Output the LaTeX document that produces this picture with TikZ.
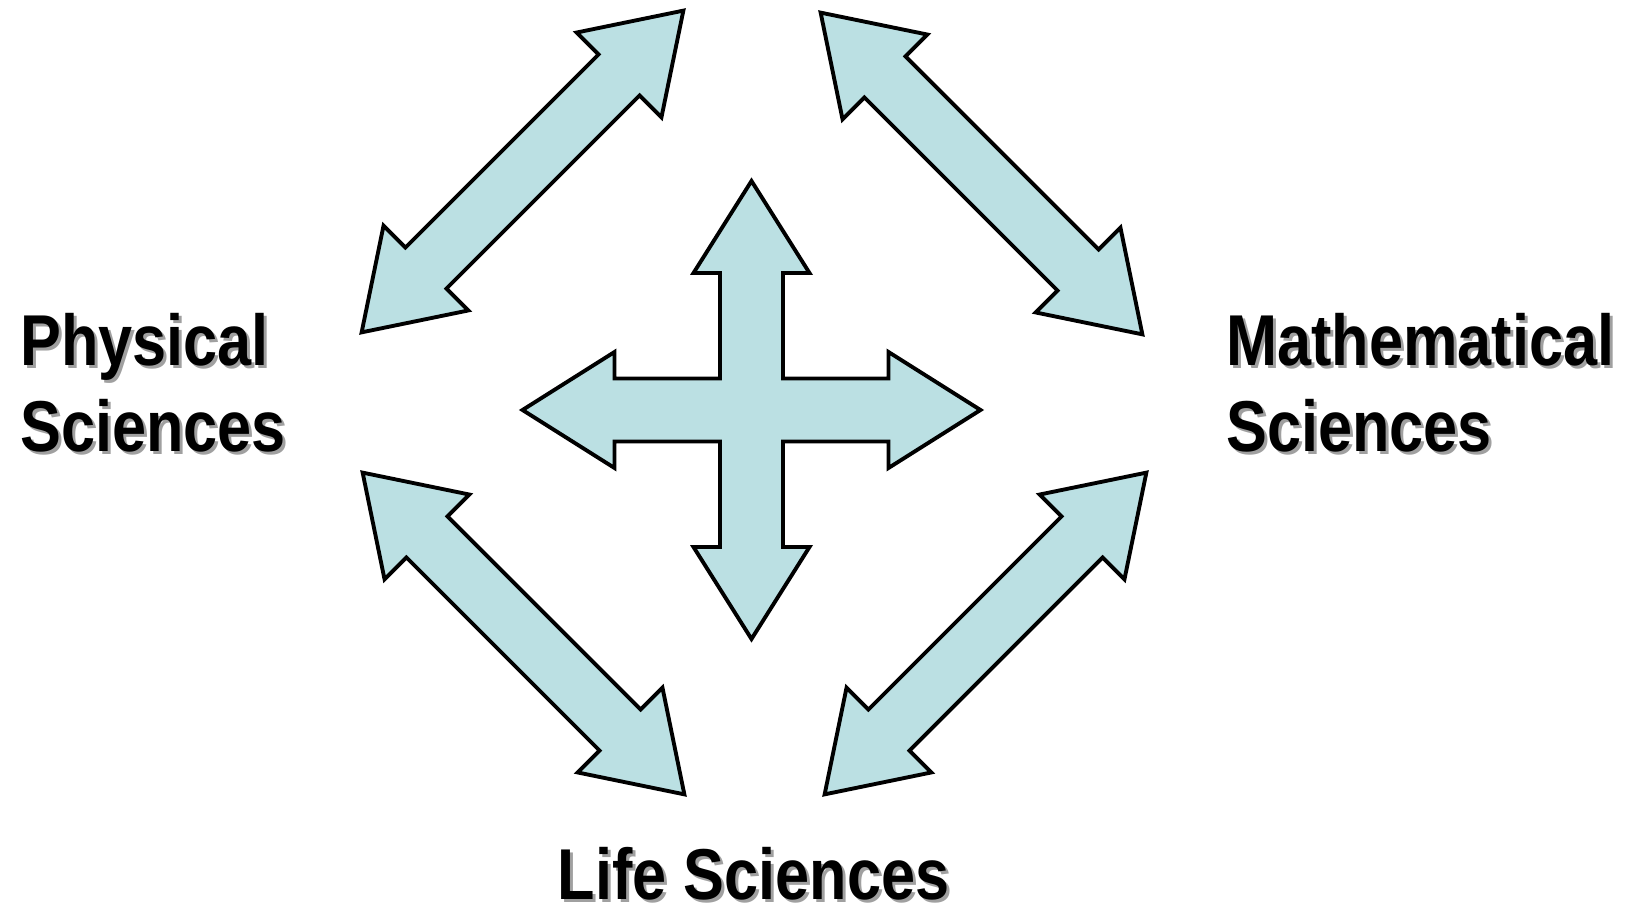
\documentclass[tikz,border=0pt]{standalone}
\usepackage{fontspec}
\usepackage{tikz}
\newfontfamily\lblfont{Liberation Sans}[FakeStretch=0.85]
\definecolor{arrowfill}{RGB}{187,224,227}
\definecolor{shadowgray}{RGB}{160,160,160}

\tikzset{
  arrowbody/.style={draw=black, fill=arrowfill, line width=2.2pt, line join=miter},
  lbl/.style={inner sep=0pt, align=left, anchor=base west,
    font=\lblfont\bfseries\fontsize{41pt}{49pt}\selectfont},
  lblshadow/.style={lbl, text=shadowgray},
  twoway/.pic={
    \draw[arrowbody] (-4.55,0) -- (-2.73,1.2) -- (-2.73,0.58) -- (2.73,0.58)
      -- (2.73,1.2) -- (4.55,0) -- (2.73,-1.2) -- (2.73,-0.58)
      -- (-2.73,-0.58) -- (-2.73,-1.2) -- cycle;
  }
}

\begin{document}
\begin{tikzpicture}
\useasboundingbox (0,0) rectangle (32.52,18.12);

% diagonal arrows between the fields
\foreach \x/\y/\a in {10.45/14.69/45, 19.63/14.65/-45, 10.47/5.45/-45, 19.71/5.45/45}
  \pic[rotate=\a] at (\x,\y) {twoway};

% four-way arrow in the middle
\coordinate (hub) at (15.03,9.92);
\draw[arrowbody, shift={(hub)}] (0,4.58) -- (1.16,2.74) -- (0.63,2.74) -- (0.63,0.63)
  -- (2.74,0.63) -- (2.74,1.16) -- (4.58,0) -- (2.74,-1.16) -- (2.74,-0.63)
  -- (0.63,-0.63) -- (0.63,-2.74) -- (1.16,-2.74) -- (0,-4.58) -- (-1.16,-2.74)
  -- (-0.63,-2.74) -- (-0.63,-0.63) -- (-2.74,-0.63) -- (-2.74,-1.16) -- (-4.58,0)
  -- (-2.74,1.16) -- (-2.74,0.63) -- (-0.63,0.63) -- (-0.63,2.74) -- (-1.16,2.74) -- cycle;

% labels with drop shadow
\node[lblshadow] (physshadow) at (0.46,9.03) {Physical\\Sciences};
\node[lbl] (phys) at (0.40,9.08) {Physical\\Sciences};
\node[lblshadow] (mathshadow) at (24.58,9.03) {Mathematical\\Sciences};
\node[lbl] (math) at (24.52,9.08) {Mathematical\\Sciences};
\node[lblshadow] (lifeshadow) at (11.21,0.08) {Life Sciences};
\node[lbl] (life) at (11.15,0.13) {Life Sciences};
\end{tikzpicture}
\end{document}
